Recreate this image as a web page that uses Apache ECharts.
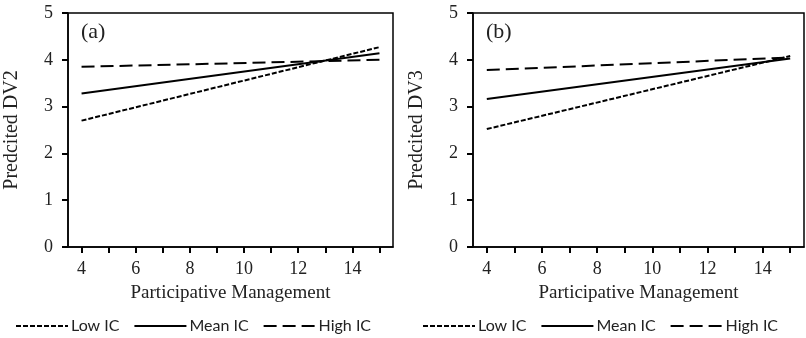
<!DOCTYPE html>
<html>
<head>
<meta charset="utf-8">
<script src="https://cdn.jsdelivr.net/npm/echarts@6/dist/echarts.min.js"></script>
<style>
    html, body { margin: 0; padding: 0; background: #fff; }
    #chart { width: 806px; height: 338px; }
</style>
</head>
<body>
<div id="chart"></div>
<script>
    // x positions of the two ends of each simple slope
    var xEnds = [4, 15];
    var xTicks = [4, 5, 6, 7, 8, 9, 10, 11, 12, 13, 14, 15];
    var xLabels = [4, 6, 8, 10, 12, 14];
    var groups = ['Low IC', 'Mean IC', 'High IC'];

    // panel (a): Predcited DV2
    var lowA = [2.70, 4.27];
    var meanA = [3.28, 4.14];
    var highA = [3.85, 4.00];

    // panel (b): Predcited DV3
    var lowB = [2.52, 4.08];
    var meanB = [3.16, 4.03];
    var highB = [3.78, 4.05];

    var serif = 'Liberation Serif';
    var dashes = {
        'Low IC': [5, 2],
        'Mean IC': 'solid',
        'High IC': [13, 6]
    };

    var panels = [
        { left: 68, top: 13, width: 325, height: 234 },
        { left: 473, top: 13, width: 331, height: 234 }
    ];

    function pairs(ys) {
        return ys.map(function (y, i) { return [xEnds[i], y]; });
    }

    // label axes (grids 0, 1)
    function xAxis(idx) {
        return {
            gridIndex: idx,
            type: 'value',
            min: 3.5,
            max: 15.5,
            name: 'Participative Management',
            nameLocation: 'middle',
            nameGap: 37,
            nameTextStyle: { fontFamily: serif, fontSize: 19, color: '#222' },
            axisLine: { show: false },
            axisTick: { show: false },
            axisLabel: { fontFamily: serif, fontSize: 18, color: '#222', margin: 13, customValues: xLabels },
            splitLine: { show: false }
        };
    }

    function yAxis(idx, title) {
        return {
            gridIndex: idx,
            type: 'value',
            min: 0,
            max: 5,
            interval: 1,
            name: title,
            nameLocation: 'middle',
            nameGap: 46,
            nameTextStyle: { fontFamily: serif, fontSize: 20, color: '#222' },
            axisLine: { show: false },
            axisTick: { show: false },
            axisLabel: { fontFamily: serif, fontSize: 18, color: '#222', margin: 15 },
            splitLine: { show: false }
        };
    }

    // tick-only axes on their own overlaid grids (grids 2, 3)
    function xTickAxis(idx) {
        return {
            gridIndex: idx,
            type: 'value',
            min: 3.5,
            max: 15.5,
            z: 10,
            axisLine: { show: true, lineStyle: { color: '#000', width: 1.5 } },
            axisTick: { show: true, length: 6, lineStyle: { color: '#000', width: 2 }, customValues: xTicks },
            axisLabel: { show: false },
            splitLine: { show: false }
        };
    }

    function yTickAxis(idx) {
        return {
            gridIndex: idx,
            type: 'value',
            min: 0,
            max: 5,
            interval: 1,
            z: 10,
            axisLine: { show: true, lineStyle: { color: '#000', width: 1.5 } },
            axisTick: { show: true, length: 6, lineStyle: { color: '#000', width: 2 } },
            axisLabel: { show: false },
            splitLine: { show: false }
        };
    }

    function line(name, ys, idx) {
        return {
            name: name,
            type: 'line',
            xAxisIndex: idx,
            yAxisIndex: idx,
            data: pairs(ys),
            symbol: 'none',
            color: '#000',
            lineStyle: { color: '#000', width: 2, type: dashes[name] }
        };
    }

    function legend(left) {
        return {
            data: groups,
            left: left,
            top: 318,
            padding: 0,
            itemWidth: 52,
            itemHeight: 14,
            itemGap: 14,
            itemStyle: { opacity: 0 },
            textStyle: { fontFamily: 'Lato', fontSize: 16, color: '#222', padding: [0, 0, 0, -2] }
        };
    }

    var mycharts = echarts.init(document.getElementById('chart'));
    var option = {
        animation: false,
        title: [
            { text: '(a)', left: 76, top: 16, textStyle: { fontFamily: serif, fontSize: 22, fontWeight: 'normal', color: '#222' } },
            { text: '(b)', left: 481, top: 16, textStyle: { fontFamily: serif, fontSize: 22, fontWeight: 'normal', color: '#222' } }
        ],
        grid: [
            Object.assign({ show: true, borderColor: '#000', borderWidth: 1.5 }, panels[0]),
            Object.assign({ show: true, borderColor: '#000', borderWidth: 1.5 }, panels[1]),
            Object.assign({}, panels[0]),
            Object.assign({}, panels[1])
        ],
        legend: [legend(15), legend(422)],
        xAxis: [xAxis(0), xAxis(1), xTickAxis(2), xTickAxis(3)],
        yAxis: [yAxis(0, 'Predcited DV2'), yAxis(1, 'Predcited DV3'), yTickAxis(2), yTickAxis(3)],
        series: [
            line('Low IC', lowA, 0),
            line('Mean IC', meanA, 0),
            line('High IC', highA, 0),
            line('Low IC', lowB, 1),
            line('Mean IC', meanB, 1),
            line('High IC', highB, 1)
        ]
    };
    mycharts.setOption(option);
</script>
</body>
</html>
